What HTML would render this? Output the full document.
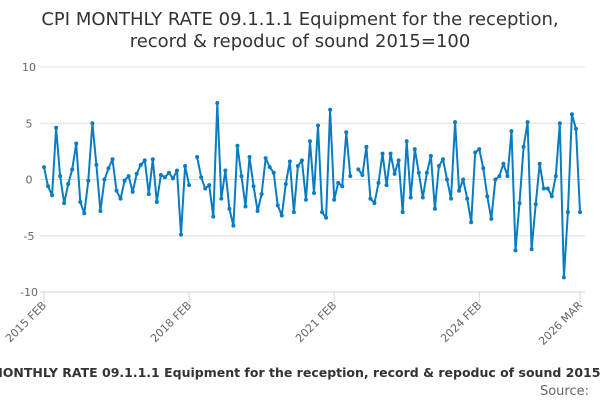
<!DOCTYPE html>
<html><head><meta charset="utf-8">
<style>
body{margin:0;width:600px;height:400px;background:#fff;overflow:hidden;font-family:"DejaVu Sans","Liberation Sans",sans-serif;}
</style></head>
<body>
<svg width="600" height="400" id="c" font-family="DejaVu Sans, Liberation Sans, sans-serif">
<text x="300" y="25" text-anchor="middle" font-size="18" fill="#333">CPI MONTHLY RATE 09.1.1.1 Equipment for the reception,</text>
<text x="300" y="47" text-anchor="middle" font-size="18" fill="#333">record &amp; repoduc of sound 2015=100</text>
<text x="300" y="377" text-anchor="middle" font-size="12.5" font-weight="bold" fill="#333">CPI MONTHLY RATE 09.1.1.1 Equipment for the reception, record &amp; repoduc of sound 2015=100</text>
<text x="589" y="395" text-anchor="end" font-size="13" fill="#666">Source:</text>
<g id="grid"></g><g id="xaxis"></g><g id="series"></g>
</svg>
<script>
const values=[1.1,-0.6,-1.4,4.6,0.3,-2.1,-0.4,0.9,3.2,-2.0,-3.0,-0.1,5.0,1.3,-2.8,0,1.0,1.8,-1.0,-1.7,-0.1,0.3,-1.1,0.5,1.3,1.7,-1.3,1.8,-2.0,0.4,0.2,0.6,0.1,0.8,-4.9,1.2,-0.5,null,
2.0,0.2,-0.8,-0.5,-3.3,6.8,-1.7,0.8,-2.6,-4.1,3.0,0.3,-2.4,2.0,-0.6,-2.8,-1.3,1.9,1.1,0.6,-2.3,-3.2,-0.4,1.6,-2.9,1.2,1.7,-1.8,3.4,-1.2,4.8,
-2.9,-3.4,6.2,-1.8,-0.3,-0.6,4.2,0.3,null,0.9,0.4,2.9,-1.7,-2.1,-0.3,2.3,-0.5,2.3,0.5,1.7,-2.9,3.4,-1.6,2.7,0.6,-1.6,0.6,2.1,-2.6,1.2,1.8,0,
-1.7,5.1,-1.0,0,-1.7,-3.8,2.4,2.7,1.0,-1.5,-3.5,0,0.3,1.4,0.3,4.3,-6.3,-2.1,2.9,5.1,-6.2,-2.2,1.4,-0.8,-0.8,-1.5,0.3,5.0,-8.7,-2.9,5.8,4.5,-2.9];
const yTicks=[10,5,0,-5,-10];
const xTickIdx=[0,36,72,108,133];
const xTickLabels=["2015 FEB","2018 FEB","2021 FEB","2024 FEB","2026 MAR"];
const NS="http://www.w3.org/2000/svg";
const x0=44,x1=580,yTop=67,yBot=292;
const n=values.length;
function xs(i){return x0+i*(x1-x0)/(n-1);}
function ys(v){return yTop+(10-v)/20*(yBot-yTop);}
function mk(t,a,p){const e=document.createElementNS(NS,t);for(const k in a)e.setAttribute(k,a[k]);p.appendChild(e);return e;}
const grid=document.getElementById('grid');
yTicks.forEach(t=>{
  if(t!==-10){const l=mk('line',{x1:40,x2:585,y1:ys(t),y2:ys(t),stroke:'#e0e0e0','stroke-width':1},grid);
  
  }
  const tx=mk('text',{x:29,y:ys(t)+4,'text-anchor':'middle','font-size':11,fill:'#666'},grid);
  tx.textContent=t;
  
  
});
const xa=document.getElementById('xaxis');
const ax=mk('line',{x1:40,x2:585,y1:yBot,y2:yBot,stroke:'#ccd6eb','stroke-width':1},xa);


xTickIdx.forEach((i,k)=>{
  const x=xs(i);
  const tk=mk('line',{x1:x,x2:x,y1:yBot,y2:yBot+10,stroke:'#ccd6eb'},xa);
  
  
  const t=mk('text',{x:x+3,y:yBot+14,'text-anchor':'end','font-size':11,fill:'#666',transform:`rotate(-45 ${x+3} ${yBot+14})`},xa);
  t.textContent=xTickLabels[k];
  
  
});
const s=document.getElementById('series');
let d='',pen=false;
values.forEach((v,i)=>{
  if(v===null){pen=false;return;}
  d+=(pen?'L':'M')+xs(i).toFixed(1)+' '+ys(v).toFixed(1);pen=true;
});
const p=mk('path',{d:d,fill:'none',stroke:'#0a7cc1','stroke-width':2,'stroke-linejoin':'round'},s);


values.forEach((v,i)=>{
  if(v===null)return;
  const c=mk('circle',{cx:xs(i),cy:ys(v),r:2,fill:'#0a7cc1'},s);
  
  
});
</script>
</body></html>
